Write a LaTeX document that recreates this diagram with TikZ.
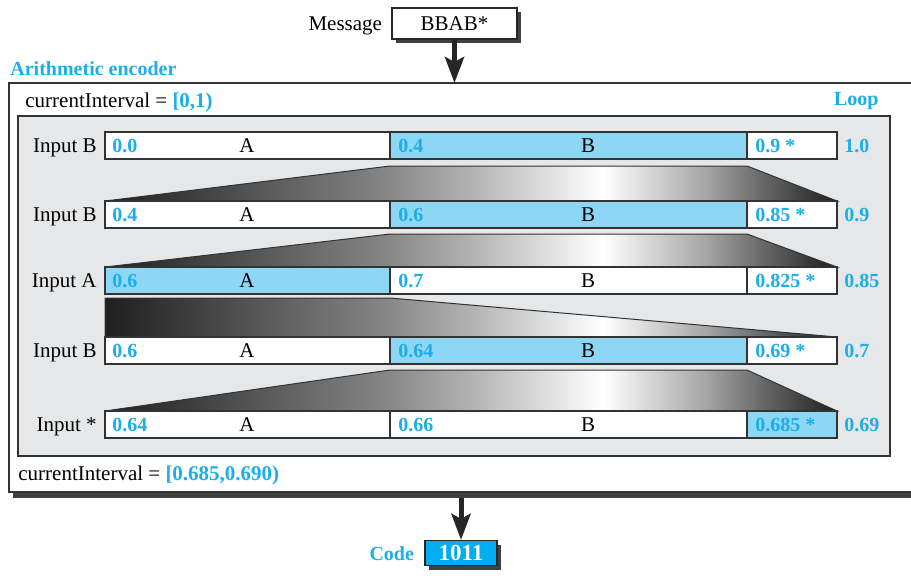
\documentclass[tikz,border=0pt]{standalone}
\usepackage{fontspec}
\setmainfont{Liberation Serif}
\usepackage{tikz}
\usetikzlibrary{arrows.meta, shadows}
\definecolor{encblue}{HTML}{1AAFE8}
\definecolor{segblue}{HTML}{8DD7F5}
\definecolor{codeblue}{HTML}{00AEEF}
\definecolor{panelgray}{HTML}{E6E7E8}
\pgfdeclarehorizontalshading{funnelshade}{100bp}{color(0bp)=(black!88);
  color(25bp)=(black!88); color(44bp)=(black!48); color(50bp)=(black!30);
  color(59bp)=(white); color(66bp)=(black!35); color(70bp)=(black!60);
  color(75bp)=(black!88); color(100bp)=(black!88)}
\tikzset{
  boxshadow/.style = {general shadow={fill=black!75, shadow xshift=2.2pt,
                      shadow yshift=-2pt}},
  msgbox/.style    = {draw=black!85, fill=white, line width=0.6pt,
                      minimum width=62.5pt, minimum height=15.5pt,
                      inner sep=0pt, boxshadow},
  codebox/.style   = {draw=black!85, fill=codeblue, line width=0.6pt,
                      text=white, font=\fontsize{11.5}{13}\selectfont\bfseries,
                      minimum width=36pt, minimum height=12.5pt,
                      inner sep=0pt, boxshadow},
  flow/.style      = {black!85, line width=2.5pt,
                      -{Stealth[length=13pt, width=9.5pt, inset=2.5pt]}},
  barline/.style   = {draw=black!80, line width=0.7pt},
  funnel/.style    = {shading=funnelshade, draw=black!80, line width=0.5pt},
  inplbl/.style    = {anchor=base east, inner sep=0pt},
  numlbl/.style    = {anchor=base west, inner sep=0pt, text=encblue,
                      font=\bfseries},
  symlbl/.style    = {anchor=base, inner sep=0pt},
  titlelbl/.style  = {inner sep=0pt, text=encblue, font=\bfseries},
}

\begin{document}
\begin{tikzpicture}[x=0.5pt, y=-0.5pt,
    every node/.append style={font=\fontsize{10.5}{12}\selectfont}]
  \useasboundingbox (0,0) rectangle (911,575);

  % message and encoder frame
  \node[msgbox] (msg) at (454.5,23.5) {BBAB*};
  \node[anchor=base east, inner sep=0pt] (msglbl)
       at ([xshift=-4.5pt]msg.base west) {Message};
  \fill[black!75] (13,88) rectangle (925,498);
  \draw[fill=white, draw=black!80, line width=0.8pt] (9,83) rectangle (920,492);
  \coordinate (enctop) at (454.5,83);
  \coordinate (encbot) at (461,498);
  \draw[flow] (msg.south) -- (enctop);
  \node[titlelbl, anchor=base west] (enctitle) at (10,75) {Arithmetic encoder};
  \node[anchor=base west, inner sep=0pt] (startint) at (25,107)
       {currentInterval = \textcolor{encblue}{\bfseries[0,1)}};
  \node[titlelbl, anchor=base east] (loop) at (879,105) {Loop};
  \filldraw[fill=panelgray, draw=black!80, line width=0.7pt]
       (18,116) rectangle (890,456);
  \node[anchor=base west, inner sep=0pt] (endint) at (18,480)
       {currentInterval = \textcolor{encblue}{\bfseries[0.685,0.690)}};

  % funnels between the rows
  \draw[funnel] (105,201) -- (390,166) -- (747,166) -- (837,201) -- cycle;
  \draw[funnel] (105,267) -- (390,234) -- (747,234) -- (837,267) -- cycle;
  \draw[funnel] (105,337) -- (105,298) -- (390,298) -- (837,337) -- cycle;
  \draw[funnel] (105,411) -- (390,370) -- (747,370) -- (837,411) -- cycle;

  % one row per input symbol
  \foreach \ytop/\inp/\vlo/\vmid/\vhi/\vup/\hla/\hlb [count=\row] in
    {132/B/0.0/0.4/0.9/1.0/390/747,
     201/B/0.4/0.6/0.85/0.9/390/747,
     267/A/0.6/0.7/0.825/0.85/105/390,
     337/B/0.6/0.64/0.69/0.7/390/747,
     411/*/0.64/0.66/0.685/0.69/747/837} {
    \pgfmathsetmacro{\ybot}{\ytop+27}
    \pgfmathsetmacro{\ybase}{\ytop+20}
    \fill[white] (105,\ytop) rectangle (837,\ybot);
    \fill[segblue] (\hla,\ytop) rectangle (\hlb,\ybot);
    \draw[barline] (105,\ytop) rectangle (837,\ybot);
    \draw[barline] (390,\ytop) -- (390,\ybot) (747,\ytop) -- (747,\ybot);
    \node[inplbl] (in\row)  at (97,\ybase)  {Input \inp};
    \node[numlbl] (lo\row)  at (112,\ybase) {\vlo};
    \node[symlbl] (a\row)   at (247,\ybase) {A};
    \node[numlbl] (mid\row) at (398,\ybase) {\vmid};
    \node[symlbl] (b\row)   at (588,\ybase) {B};
    \node[numlbl] (hi\row)  at (755,\ybase) {\vhi\ *};
    \node[numlbl] (up\row)  at (844,\ybase) {\vup};
  }

  % output code
  \node[codebox] (code) at (461,553) {1011};
  \node[titlelbl, anchor=base east] (codelbl)
       at ([xshift=-5pt]code.base west) {Code};
  \draw[flow] (encbot) -- (code.north);
\end{tikzpicture}
\end{document}
